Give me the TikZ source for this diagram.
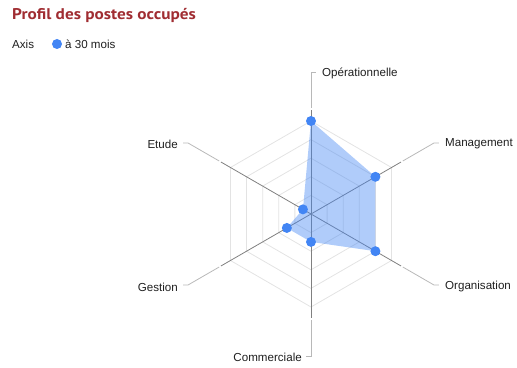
\documentclass[tikz,border=0pt]{standalone}
\usepackage{fontspec}
\setmainfont{Liberation Sans}
\newfontfamily\titlefont{PT Sans}
\usetikzlibrary{calc}
\definecolor{chartblue}{RGB}{66,133,244}
\definecolor{titlered}{RGB}{160,45,50}
\begin{document}
\begin{tikzpicture}[x=1pt,y=1pt,
  gridline/.style={draw=black!11, line width=0.8pt},
  axisline/.style={draw=black!50, line width=0.8pt},
  leader/.style={draw=black!28, line width=0.8pt},
  lbl/.style={font=\fontsize{11.6}{13}\selectfont, text=black!88, inner sep=0pt},
  dot/.style={circle, fill=chartblue, inner sep=0pt, minimum size=10pt},
]
\useasboundingbox (-311,-153) rectangle (206,214);
% title and legend
\node[anchor=west, inner sep=0pt, text=titlered, font=\titlefont\bfseries\fontsize{15.5}{17}\selectfont] (title) at (-299,198.5) {\scalebox{1.11}[1]{Profil des postes occupés}};
\node[lbl, anchor=west] (axislbl) at (-299,170) {Axis};
\node[dot] (legdot) at (-254,170) {};
\node[lbl, anchor=west] (leglbl) at (-246,170) {à 30 mois};
% grid
\coordinate (C) at (0,0);
\foreach \r in {1,...,5}
  \draw[gridline] (90:{18.6*\r}) -- (30:{18.6*\r}) -- (-30:{18.6*\r}) -- (-90:{18.6*\r}) -- (-150:{18.6*\r}) -- (150:{18.6*\r}) -- cycle;
% axes and leaders
\foreach \a/\n in {90/op,30/ma,-30/or,-90/co,-150/ge,150/et} {
  \coordinate (\n-in) at (\a:104);
  \coordinate (\n-s) at (\a:106);
  \coordinate (\n-e) at (\a:142);
  \draw[axisline] (C) -- (\n-in);
}
\coordinate (op-t) at ($(op-e)+(5,0)$);
\coordinate (ma-t) at ($(ma-e)+(5,0)$);
\coordinate (or-t) at ($(or-e)+(5,0)$);
\coordinate (co-t) at ($(co-e)+(-5,0)$);
\coordinate (ge-t) at ($(ge-e)+(-5,0)$);
\coordinate (et-t) at ($(et-e)+(-5,0)$);
\node[lbl, anchor=west] (lop) at ($(op-t)+(6,-1.5)$) {Opérationnelle};
\node[lbl, anchor=west] (lma) at ($(ma-t)+(6,-1)$) {Management};
\node[lbl, anchor=west] (lor) at ($(or-t)+(6,-2)$) {Organisation};
\node[lbl, anchor=east] (lco) at ($(co-t)+(-4,-1.5)$) {Commerciale};
\node[lbl, anchor=east] (lge) at ($(ge-t)+(-5,-2)$) {Gestion};
\node[lbl, anchor=east] (let) at ($(et-t)+(-5,-1)$) {Etude};
\foreach \n in {op,ma,or,co,ge,et}
  \draw[leader] (\n-s) -- (\n-e) -- (\n-t);
% data
\coordinate (d-op) at (90:93);
\coordinate (d-ma) at (30:74.4);
\coordinate (d-or) at (-30:74.4);
\coordinate (d-co) at (-90:27.9);
\coordinate (d-ge) at (-150:27.9);
\coordinate (d-et) at (150:9.3);
\fill[chartblue, fill opacity=0.42] (d-op) -- (d-ma) -- (d-or) -- (d-co) -- (d-ge) -- (d-et) -- cycle;
\foreach \n in {op,ma,or,co,ge,et}
  \node[dot] (p-\n) at (d-\n) {};
\end{tikzpicture}
\end{document}
